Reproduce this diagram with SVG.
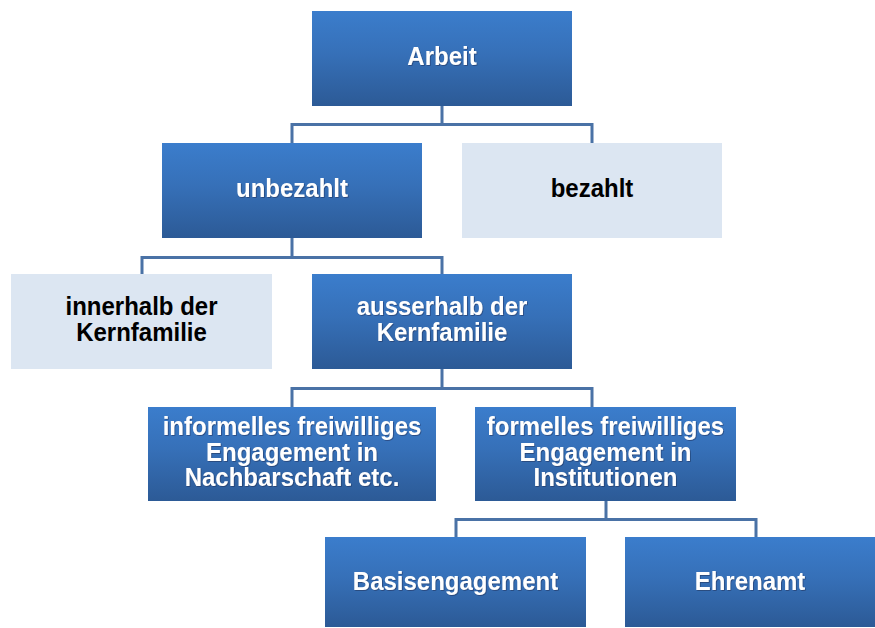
<svg xmlns="http://www.w3.org/2000/svg" width="875" height="628" viewBox="0 0 875 628">
<defs>
<linearGradient id="blue" x1="0" y1="0" x2="0" y2="1">
<stop offset="0" stop-color="#3b7dcc"/>
<stop offset="0.45" stop-color="#3670b8"/>
<stop offset="1" stop-color="#2c5a96"/>
</linearGradient>
<filter id="sh" x="-10%" y="-20%" width="120%" height="140%">
<feDropShadow dx="0.8" dy="0.8" stdDeviation="0.6" flood-color="#1a2f55" flood-opacity="0.6"/>
</filter>
</defs>
<style>
.dark{fill:url(#blue)}
.light{fill:#dce6f2}
.tw{font-family:"Liberation Sans",Arial,sans-serif;font-weight:bold;font-size:24px;fill:#ffffff;text-anchor:middle}
.tb{font-family:"Liberation Sans",Arial,sans-serif;font-weight:bold;font-size:24px;fill:#000000;text-anchor:middle}
.con{fill:none;stroke:#4a72a6;stroke-width:3}
</style>
<rect width="875" height="628" fill="#ffffff"/>
<g id="connectors">
<path class="con" d="M442 106V124.5M292 143V124.5H592V143"/>
<path class="con" d="M292 238V257.5M142 274V257.5H442V274"/>
<path class="con" d="M442 369V388.5M292 407V388.5H592V407"/>
<path class="con" d="M606 501V519.5M456 537V519.5H756V537"/>
</g>
<g id="arbeit">
<rect class="dark" x="312" y="11" width="260" height="95"/>
<text class="tw" filter="url(#sh)" transform="translate(442 65) scale(1 1.1)">Arbeit</text>
</g>
<g id="unbezahlt">
<rect class="dark" x="162" y="143" width="260" height="95"/>
<text class="tw" filter="url(#sh)" transform="translate(292 197) scale(1 1.1)">unbezahlt</text>
</g>
<g id="bezahlt">
<rect class="light" x="462" y="143" width="260" height="95"/>
<text class="tb" transform="translate(592 197) scale(1 1.1)">bezahlt</text>
</g>
<g id="innerhalb">
<rect class="light" x="11" y="274" width="261" height="95"/>
<text class="tb" transform="translate(141.5 315) scale(1 1.1)">innerhalb der</text>
<text class="tb" transform="translate(141.5 341) scale(1 1.1)">Kernfamilie</text>
</g>
<g id="ausserhalb">
<rect class="dark" x="312" y="274" width="260" height="95"/>
<text class="tw" filter="url(#sh)" transform="translate(442 315) scale(1 1.1)">ausserhalb der</text>
<text class="tw" filter="url(#sh)" transform="translate(442 341) scale(1 1.1)">Kernfamilie</text>
</g>
<g id="informelles">
<rect class="dark" x="148" y="407" width="288" height="94"/>
<text class="tw" filter="url(#sh)" transform="translate(292 435) scale(1 1.1)">informelles freiwilliges</text>
<text class="tw" filter="url(#sh)" transform="translate(292 460.5) scale(1 1.1)">Engagement in</text>
<text class="tw" filter="url(#sh)" transform="translate(292 486) scale(1 1.1)">Nachbarschaft etc.</text>
</g>
<g id="formelles">
<rect class="dark" x="475" y="407" width="261" height="94"/>
<text class="tw" filter="url(#sh)" transform="translate(605.5 435) scale(1 1.1)">formelles freiwilliges</text>
<text class="tw" filter="url(#sh)" transform="translate(605.5 460.5) scale(1 1.1)">Engagement in</text>
<text class="tw" filter="url(#sh)" transform="translate(605.5 486) scale(1 1.1)">Institutionen</text>
</g>
<g id="basisengagement">
<rect class="dark" x="325" y="537" width="261" height="90"/>
<text class="tw" filter="url(#sh)" transform="translate(455.5 590) scale(1 1.1)">Basisengagement</text>
</g>
<g id="ehrenamt">
<rect class="dark" x="625" y="537" width="250" height="90"/>
<text class="tw" filter="url(#sh)" transform="translate(750 590) scale(1 1.1)">Ehrenamt</text>
</g>
</svg>
